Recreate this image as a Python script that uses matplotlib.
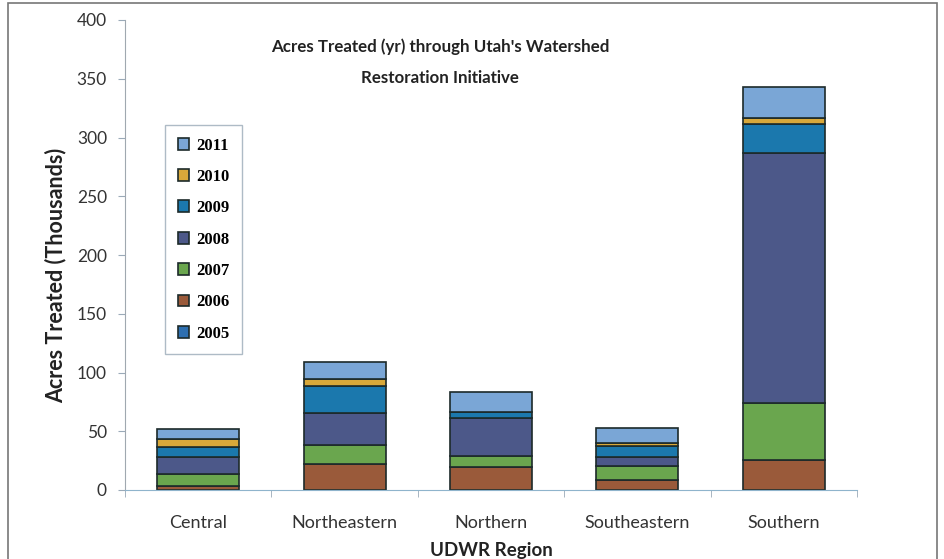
import matplotlib
matplotlib.use("Agg")
import matplotlib.pyplot as plt
from matplotlib.patches import Rectangle
import numpy as np

regions = ["Central", "Northeastern", "Northern", "Southeastern", "Southern"]
years = ["2005", "2006", "2007", "2008", "2009", "2010", "2011"]
v2005 = [0, 0, 0, 0, 0]
v2006 = [3, 22, 20, 8.5, 25.5]
v2007 = [10.5, 16.5, 9, 12, 48.5]
v2008 = [14.5, 27, 32, 7.5, 213]
v2009 = [8.5, 23, 5, 9.5, 24.5]
v2010 = [7, 6, 0.5, 2.5, 5]
v2011 = [8, 14.5, 16.5, 13, 26.5]
series = [v2005, v2006, v2007, v2008, v2009, v2010, v2011]
colors = ["#2e6fb0", "#9a5a3a", "#6aa64e", "#4c5889", "#1b78ad", "#d8a83a", "#7aa6d6"]

fig = plt.figure(figsize=(9.44, 5.59), dpi=100)
fig.patch.set_facecolor("white")
# outer frame
fig.add_artist(Rectangle((8/944, -0.01), (937-8)/944, (559-3)/559 + 0.01,
                         transform=fig.transFigure, fill=False,
                         edgecolor="#777777", linewidth=1.2))

ax = fig.add_axes([125/944, 1-490/559, (857-125)/944, (490-20)/559])
x = np.arange(len(regions))
bottom = np.zeros(len(regions))
handles = []
for yr, vals, c in zip(years, series, colors):
    b = ax.bar(x, vals, width=0.56, bottom=bottom, color=c,
               edgecolor="#1c2a2a", linewidth=1.2, label=yr)
    handles.append(b)
    bottom += np.array(vals)

ax.set_xlim(-0.5, 4.5)
ax.set_ylim(0, 400)
ax.set_yticks(range(0, 401, 50))
ax.set_xticks(x)
ax.set_xticklabels(regions)
ax.set_xticks(np.arange(-0.5, 5, 1), minor=True)
ax.tick_params(axis="x", which="major", length=0, pad=18, labelsize=13, labelcolor="#333333")
ax.tick_params(axis="x", which="minor", length=5, color="#9aaab8", direction="out")
ax.tick_params(axis="y", length=5, color="#9aaab8", labelsize=12.5, labelcolor="#333333", pad=8)
for s in ["top", "right"]:
    ax.spines[s].set_visible(False)
ax.spines["left"].set_color("#a0a8b0")
ax.spines["bottom"].set_color("#8fb4cc")

fam = ["Lato", "DejaVu Sans"]
for lab in ax.get_xticklabels() + ax.get_yticklabels():
    lab.set_family(fam)

ax.set_ylabel("Acres Treated (Thousands)", fontsize=15.5, fontweight="bold",
              family=fam, color="#222222")
ax.yaxis.set_label_coords(-0.08, 0.457)
ax.set_xlabel("UDWR Region", fontsize=13.5, fontweight="bold", family=fam,
              color="#222222", labelpad=8)

fig.text(440/944, 1-47/559, "Acres Treated (yr) through Utah's Watershed",
         ha="center", va="center", fontsize=12.2, fontweight="bold", family=fam, color="#222222")
fig.text(440/944, 1-78/559, "Restoration Initiative",
         ha="center", va="center", fontsize=12.2, fontweight="bold", family=fam, color="#222222")

leg = ax.legend(handles[::-1], years[::-1], loc="upper left",
                bbox_to_anchor=((165-125)/(857-125), (490-125)/(490-20)),
                prop={"family": ["Liberation Serif"], "weight": "bold", "size": 12},
                frameon=True, fancybox=False, edgecolor="#9aaab8",
                handlelength=0.7, handleheight=0.7, labelspacing=0.92,
                borderpad=0.75, handletextpad=0.4, borderaxespad=0)
leg.get_frame().set_linewidth(1.0)

fig.savefig("out.png", dpi=100, facecolor="white")
